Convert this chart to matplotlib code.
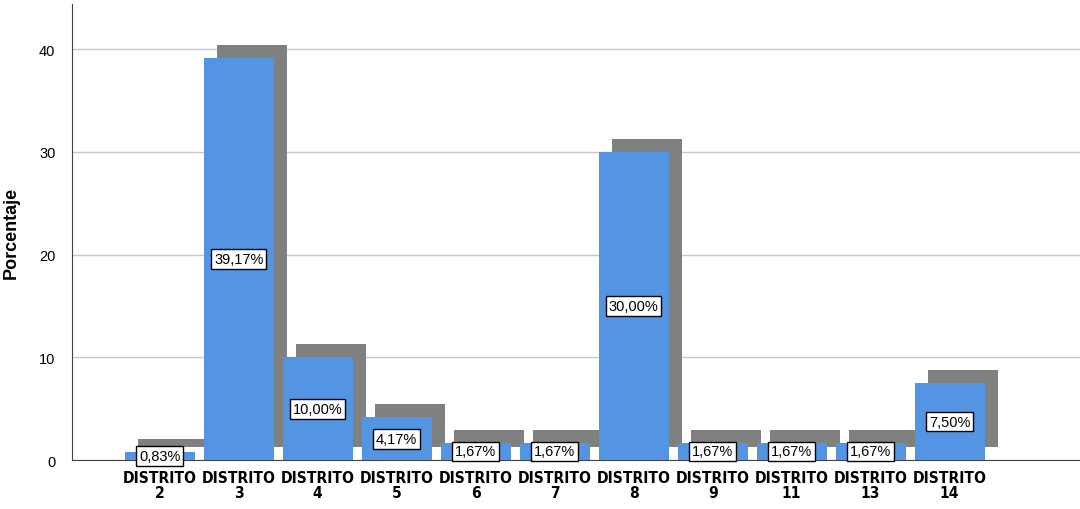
import matplotlib
matplotlib.use("Agg")
import matplotlib.pyplot as plt
import matplotlib.transforms as mtransforms
from matplotlib import font_manager
import numpy as np

# datos
distritos = ["DISTRITO\n2", "DISTRITO\n3", "DISTRITO\n4", "DISTRITO\n5", "DISTRITO\n6",
             "DISTRITO\n7", "DISTRITO\n8", "DISTRITO\n9", "DISTRITO\n11", "DISTRITO\n13",
             "DISTRITO\n14"]
porcentaje = [0.83, 39.17, 10.00, 4.17, 1.67, 1.67, 30.00, 1.67, 1.67, 1.67, 7.50]
etiquetas = ["0,83%", "39,17%", "10,00%", "4,17%", "1,67%", "1,67%", "30,00%",
             "1,67%", "1,67%", "1,67%", "7,50%"]

plt.rcParams['font.family'] = ['Liberation Sans', 'DejaVu Sans']

# fuente estrecha para las categorias
narrow = [f.fname for f in font_manager.fontManager.ttflist
          if 'condensed' in f.fname.lower() and 'bold' in f.fname.lower()
          and 'oblique' not in f.fname.lower()]
if narrow:
    fp_cat = font_manager.FontProperties(fname=narrow[0], size=11.2)
else:
    fp_cat = font_manager.FontProperties(family='DejaVu Sans', weight='bold', size=10)

fig = plt.figure(figsize=(10.8, 5.1), dpi=100)
ax = fig.add_axes([0.0667, 0.096, 0.9333, 0.894])

x = np.arange(len(distritos))
ancho = 0.886

# sombra desplazada 13 px a la derecha y arriba
sombra = mtransforms.offset_copy(ax.transData, fig=fig, x=13, y=13, units='dots')
ax.bar(x, porcentaje, width=ancho, color='#808080', transform=sombra, zorder=2)
ax.bar(x, porcentaje, width=ancho, color='#5495E3', zorder=3)

for xi, v, t in zip(x, porcentaje, etiquetas):
    ax.text(xi, v / 2, t, ha='center', va='center', fontsize=10.5, zorder=5,
            bbox=dict(boxstyle='square,pad=0.2', fc='white', ec='black', lw=1))

ax.set_xlim(-1.11, 11.65)
ax.set_ylim(0, 44.4)
ax.set_yticks([0, 10, 20, 30, 40])
ax.yaxis.grid(True, color='#c8c8c8', lw=1)
ax.set_axisbelow(True)
ax.set_xticks(x)
ax.set_xticklabels(distritos, fontproperties=fp_cat, linespacing=1.05)
ax.tick_params(axis='x', length=0, pad=7)
ax.tick_params(axis='y', length=0, labelsize=10.5, pad=12)
ax.set_ylabel("Porcentaje", fontsize=13, fontweight='bold', labelpad=14)

for s in ['top', 'right']:
    ax.spines[s].set_visible(False)
ax.spines['left'].set_color('#444444')
ax.spines['bottom'].set_color('#444444')

plt.savefig("out.png", dpi=100)
